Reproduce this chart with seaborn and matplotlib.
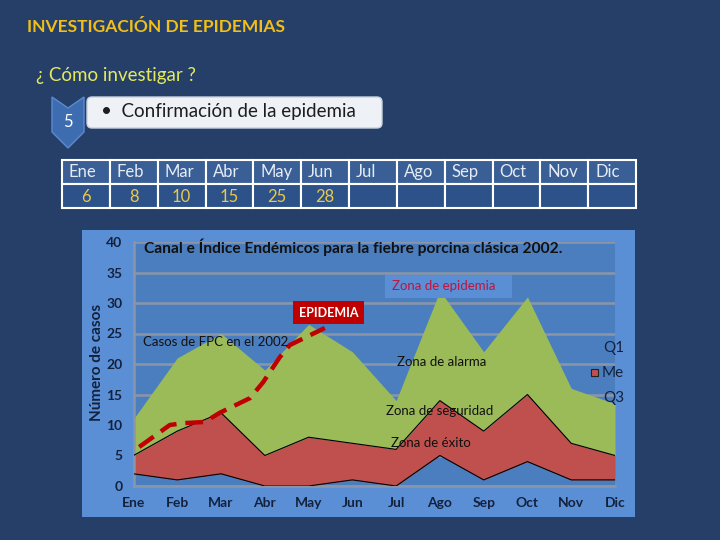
import numpy as np
import pandas as pd
import matplotlib
matplotlib.use("Agg")
import matplotlib.pyplot as plt
from matplotlib.patches import Rectangle, Polygon, FancyBboxPatch
import seaborn as sns

# datos del canal endemico
meses = ['Ene', 'Feb', 'Mar', 'Abr', 'May', 'Jun', 'Jul', 'Ago', 'Sep', 'Oct', 'Nov', 'Dic']
q1 = [2, 1, 2, 0, 0, 1, 0, 5, 1, 4, 1, 1]
me = [5, 9, 12, 5, 8, 7, 6, 14, 9, 15, 7, 5]
q3 = [11, 21, 25, 19, 26.5, 22, 14, 32, 22, 31, 16, 13.5]

# casos 2002 (linea discontinua)
casos_x = [0.13, 0.83, 1.13, 1.63, 1.97, 2.66, 2.96, 3.34, 3.57, 4.37]
casos_y = [6.4, 10.0, 10.3, 10.5, 12.0, 14.4, 17.0, 21.1, 23.1, 25.9]

# tabla de la diapositiva
tabla_valores = ['6', '8', '10', '15', '25', '28', '', '', '', '', '', '']

sns.set_style("white")
plt.rcParams['font.family'] = ['Lato', 'DejaVu Sans']

BG = '#253f68'
fig = plt.figure(figsize=(7.2, 5.4), dpi=100, facecolor=BG)

# capa en pixeles para los adornos de la diapositiva
ov = fig.add_axes([0, 0, 1, 1], zorder=0)
ov.set_xlim(0, 720)
ov.set_ylim(540, 0)
ov.axis('off')

ov.text(27, 27, 'INVESTIGACIÓN DE EPIDEMIAS', color='#f0bf1a', fontsize=12.5,
        fontweight='bold', va='center', ha='left')
ov.text(36, 75, '¿ Cómo investigar ?', color='#e4ea5c', fontsize=13.5, va='center', ha='left')

# chevron + caja
chev = Polygon([(52, 97), (68, 108), (84, 97), (84, 132), (68, 148), (52, 132)],
               closed=True, facecolor='#3d6cb0', edgecolor='#5c8ad0', lw=1)
ov.add_patch(chev)
box = FancyBboxPatch((87, 97), 295, 31, boxstyle='round,pad=0,rounding_size=5',
                     facecolor='#eef1f6', edgecolor='#c9d2de', lw=1, zorder=3)
ov.add_patch(box)
ov.text(68, 122, '5', color='white', fontsize=12, ha='center', va='center', zorder=4)
ov.text(101, 112, '•  Confirmación de la epidemia', color='#1e1e1e', fontsize=13.5,
        ha='left', va='center', zorder=4)

# tabla de meses
x0, x1 = 62, 636
ancho = (x1 - x0) / len(meses)
for i, (m, v) in enumerate(zip(meses, tabla_valores)):
    cx = x0 + i * ancho
    ov.add_patch(Rectangle((cx, 160), ancho, 24, facecolor='#3a5f96', edgecolor='white', lw=1.5))
    ov.add_patch(Rectangle((cx, 184), ancho, 24, facecolor='#2d5289', edgecolor='white', lw=1.5))
    ov.text(cx + 7, 172, m, color='#e6ecf4', fontsize=12, ha='left', va='center')
    ov.text(cx + ancho / 2, 197, v, color='#ecc84a', fontsize=12, ha='center', va='center')

# fondo del grafico
ov.add_patch(Rectangle((82, 230), 553, 287, facecolor='#5a8fd6', edgecolor='none'))

# ejes del grafico
L, R, B, T = 133.5, 615, 486, 242
ax = fig.add_axes([L / 720, 1 - B / 540, (R - L) / 720, (B - T) / 540], zorder=2)
ax.set_facecolor('#4a7ebf')
x = np.arange(len(meses))
ax.fill_between(x, q1, me, color='#c0504d', lw=0, zorder=2)
ax.fill_between(x, me, q3, color='#9bbb59', lw=0, zorder=2)
ax.plot(x, q1, color='black', lw=0.8, zorder=3)
ax.plot(x, me, color='black', lw=0.8, zorder=3)

df_casos = pd.DataFrame({'mes': casos_x, 'casos': casos_y})
sns.lineplot(data=df_casos, x='mes', y='casos', ax=ax, color='#c00000', lw=3.2,
             dashes=False, zorder=4)
ax.lines[-1].set_dashes([4, 2])

ax.set_xlim(0, 11)
ax.set_ylim(0, 40)
ax.set_yticks(range(0, 41, 5))
ax.set_xticks(x)
ax.set_xticklabels(meses)
ax.grid(axis='y', color='#8a96a8', lw=1.8, zorder=0)
ax.set_axisbelow(True)
for s in ['top', 'right']:
    ax.spines[s].set_visible(False)
for s in ['left', 'bottom']:
    ax.spines[s].set_color('#8a96a8')
    ax.spines[s].set_linewidth(1.8)
ax.tick_params(axis='both', length=0, labelsize=10, labelcolor='#14213d', pad=8)
for lab in ax.get_xticklabels() + ax.get_yticklabels():
    lab.set_fontweight('bold')
ax.set_xlabel('')
ax.set_ylabel('')

# textos dentro del grafico
ax.text(1.88, 23.6, 'Casos de FPC en el 2002', fontsize=9.5, color='#111111', ha='center', va='center', zorder=5)
ax.text(4.46, 28.4, 'EPIDEMIA', fontsize=9, color='white', fontweight='bold', ha='center', va='center', zorder=5,
        bbox=dict(boxstyle='square,pad=0.45', facecolor='#c00000', edgecolor='none'))
ax.text(7.04, 20.3, 'Zona de alarma', fontsize=9.5, color='#111111', ha='center', va='center', zorder=5)
ax.text(7.0, 12.3, 'Zona de seguridad', fontsize=9.5, color='#111111', ha='center', va='center', zorder=5)
ax.text(6.8, 7.0, 'Zona de éxito', fontsize=9.5, color='#111111', ha='center', va='center', zorder=5)

ov2 = fig.add_axes([0, 0, 1, 1], zorder=6)
ov2.set_xlim(0, 720)
ov2.set_ylim(540, 0)
ov2.axis('off')
ov2.add_patch(Rectangle((385, 275), 127, 23, facecolor='#5a8fd6', edgecolor='none'))
ov2.text(392, 286.5, 'Zona de epidemia', fontsize=9.5, color='#c0143c', ha='left', va='center')
ov2.text(144, 247, 'Canal e Índice Endémicos para la fiebre porcina clásica 2002.', fontsize=11.2,
         color='#111111', fontweight='bold', ha='left', va='center')
ov2.text(97, 362, 'Número de casos', fontsize=11, color='#14213d', fontweight='bold',
         rotation=90, ha='center', va='center')
ov2.text(603, 348, 'Q1', fontsize=11, color='#14213d', ha='left', va='center')
ov2.add_patch(Rectangle((591, 369), 7, 7, facecolor='#c0504d', edgecolor='#222222', lw=0.8))
ov2.text(602, 373, 'Me', fontsize=11, color='#14213d', ha='left', va='center')
ov2.text(603, 398, 'Q3', fontsize=11, color='#14213d', ha='left', va='center')

fig.savefig('out.png', dpi=100, facecolor=BG)
